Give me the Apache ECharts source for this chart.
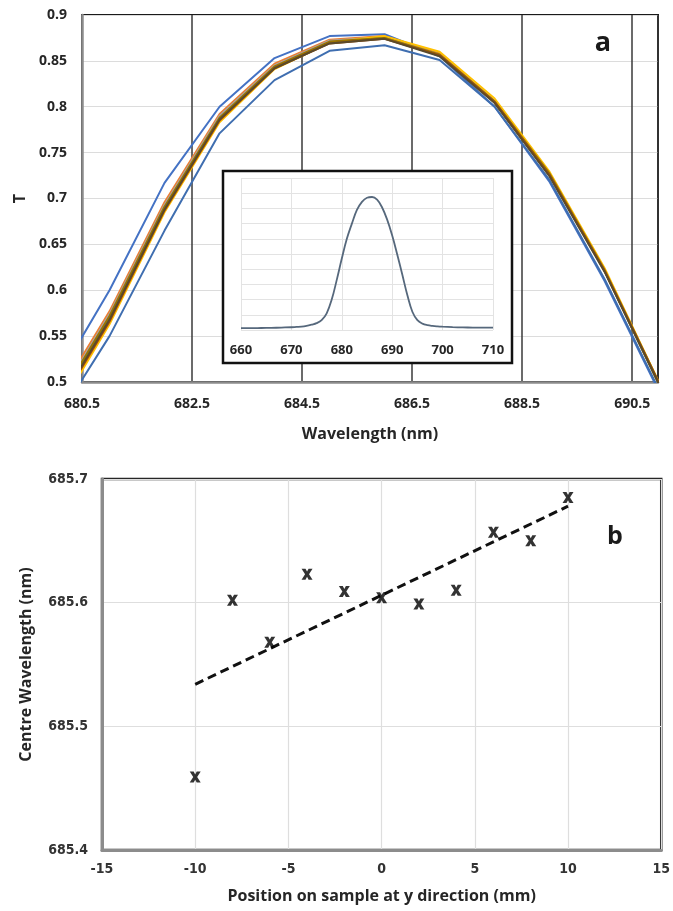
<!DOCTYPE html>
<html>
<head>
    <meta charset="utf-8"/>
    <title>T spectra and centre wavelength</title>
    <script src="https://cdn.jsdelivr.net/npm/echarts@6/dist/echarts.min.js"></script>
    <style>
        html, body { margin: 0; padding: 0; background: #fff; }
        #chart { width: 673px; height: 911px; }
    </style>
</head>
<body>
<div id="chart"></div>
<script type="text/javascript">
// (a) transmission around the peak, nm
var wl = [680, 681, 682, 683, 684, 685, 686, 687, 688, 689, 690, 691];
var tBlueHigh = [0.498, 0.600, 0.717, 0.800, 0.853, 0.877, 0.879, 0.855, 0.800, 0.718, 0.610, 0.488];
var tBlueLow  = [0.455, 0.550, 0.665, 0.771, 0.829, 0.861, 0.867, 0.851, 0.800, 0.720, 0.612, 0.490];
var tOrange   = [0.478, 0.577, 0.696, 0.792, 0.847, 0.873, 0.877, 0.858, 0.806, 0.726, 0.621, 0.496];
var tGray     = [0.474, 0.574, 0.693, 0.790, 0.845, 0.872, 0.876, 0.857, 0.806, 0.726, 0.622, 0.497];
var tYellow   = [0.462, 0.563, 0.685, 0.783, 0.841, 0.870, 0.877, 0.860, 0.809, 0.729, 0.624, 0.498];
var tGreen    = [0.470, 0.570, 0.690, 0.787, 0.843, 0.870, 0.875, 0.856, 0.805, 0.725, 0.621, 0.496];
var tOlive    = [0.472, 0.572, 0.691, 0.788, 0.844, 0.871, 0.875, 0.857, 0.806, 0.727, 0.622, 0.498];
var tBrown    = [0.466, 0.566, 0.687, 0.785, 0.842, 0.869, 0.874, 0.856, 0.805, 0.725, 0.621, 0.497];
var tDark     = [0.468, 0.568, 0.688, 0.786, 0.842, 0.869, 0.874, 0.855, 0.804, 0.724, 0.620, 0.496];
var wlTicks = [680.5, 682.5, 684.5, 686.5, 688.5, 690.5];

// inset: full peak
var wlInset = [660, 662, 664, 666, 668, 670, 671, 672, 673, 674, 675, 676, 677, 678, 679, 680, 681, 682, 683, 684, 685,
    686, 687, 688, 689, 690, 691, 692, 693, 694, 695, 696, 697, 698, 699, 700, 702, 704, 706, 708, 710];
var tInset = [0.012, 0.012, 0.013, 0.014, 0.016, 0.018, 0.020, 0.022, 0.027, 0.035, 0.045, 0.065, 0.110, 0.200, 0.330, 0.470, 0.600, 0.700, 0.790, 0.843, 0.870,
    0.875, 0.857, 0.806, 0.726, 0.622, 0.497, 0.365, 0.230, 0.120, 0.065, 0.042, 0.032, 0.027, 0.024, 0.022, 0.019, 0.017, 0.016, 0.015, 0.015];

// (b) centre wavelength vs position
var posY = [-10, -8, -6, -4, -2, 0, 2, 4, 6, 8, 10];
var centreWl = [685.459, 685.602, 685.568, 685.623, 685.609, 685.604, 685.599, 685.610, 685.657, 685.650, 685.685];
var trendX = [-10, 10];
var trendY = [685.534, 685.678];

var X0 = wlTicks[0]; // top axis is drawn from 680.5
function zip(xs, ys, off) {
    return xs.map(function (x, i) { return [x - (off || 0), ys[i]]; });
}

var myChart = echarts.init(document.getElementById('chart'), null, {renderer: 'canvas'});

var boldFont = {fontFamily: 'Open Sans', fontWeight: 'bold', color: '#262626'};
var narrowFont = {fontFamily: '"DejaVu Sans Condensed", "Liberation Sans Narrow", "Noto Sans", sans-serif', fontWeight: 'bold', color: '#333'};

function topLine(name, data, color, width) {
    return {
        name: name, type: 'line', xAxisIndex: 0, yAxisIndex: 0,
        data: zip(wl, data, X0), symbol: 'none', smooth: false,
        lineStyle: {color: color, width: width || 2}, clip: true
    };
}

var xMark = 'path://M0,0 L3.6,0 L5,2.6 L6.4,0 L10,0 L6.8,5 L10,10 L6.4,10 L5,7.4 L3.6,10 L0,10 L3.2,5 Z';

var option = {
    animation: false,
    backgroundColor: '#fff',
    grid: [
        {left: 82, top: 15, width: 576, height: 367, show: true, borderColor: '#1a1a1a', borderWidth: 2, backgroundColor: 'transparent'},
        {left: 241, top: 178, width: 252, height: 152, show: false},
        {left: 102, top: 479, width: 562, height: 371, show: true, borderColor: '#262626', borderWidth: 2.5, backgroundColor: 'transparent'}
    ],
    xAxis: [
        {
            gridIndex: 0, type: 'value', min: 0, max: 10.47, interval: 2,
            name: 'Wavelength (nm)', nameLocation: 'middle', nameGap: 44,
            nameTextStyle: Object.assign({fontSize: 16}, boldFont),
            axisLine: {show: true, lineStyle: {color: '#8c8c8c', width: 2.5}},
            axisTick: {show: false},
            axisLabel: Object.assign({fontSize: 14, margin: 15, showMaxLabel: false,
                formatter: function (v) { return (v + X0).toFixed(1); }}, boldFont),
            splitLine: {show: true, lineStyle: {color: '#3a3a3a', width: 1.5}}
        },
        {
            gridIndex: 1, type: 'value', min: 660, max: 710, interval: 10, z: 60,
            axisLine: {show: false}, axisTick: {show: false},
            axisLabel: Object.assign({fontSize: 13, margin: 14}, boldFont),
            splitLine: {show: true, lineStyle: {color: '#e3e3e3', width: 1}}
        },
        {
            gridIndex: 2, type: 'value', min: -15, max: 15, interval: 5,
            name: 'Position on sample at y direction (mm)', nameLocation: 'middle', nameGap: 38,
            nameTextStyle: Object.assign({fontSize: 16}, boldFont),
            axisLine: {show: true, onZero: false, lineStyle: {color: '#8c8c8c', width: 3}},
            axisTick: {show: false},
            axisLabel: Object.assign({fontSize: 14, margin: 12}, narrowFont),
            splitLine: {show: true, lineStyle: {color: '#dedede', width: 1.2}}
        }
    ],
    yAxis: [
        {
            gridIndex: 0, type: 'value', min: 0.5, max: 0.9, interval: 0.05,
            name: 'T', nameLocation: 'middle', nameGap: 54,
            nameTextStyle: Object.assign({fontSize: 16}, boldFont),
            axisLine: {show: true, onZero: false, lineStyle: {color: '#8c8c8c', width: 2.5}},
            axisTick: {show: false},
            axisLabel: Object.assign({fontSize: 14, margin: 15,
                formatter: function (v) { return String(+v.toFixed(2)); }}, boldFont),
            splitLine: {show: true, lineStyle: {color: '#dcdcdc', width: 1.2}}
        },
        {
            gridIndex: 1, type: 'value', min: 0, max: 1, interval: 0.1, z: 60,
            axisLine: {show: false}, axisTick: {show: false}, axisLabel: {show: false},
            splitLine: {show: true, lineStyle: {color: '#e3e3e3', width: 1}}
        },
        {
            gridIndex: 2, type: 'value', min: 685.4, max: 685.7, interval: 0.1,
            name: 'Centre Wavelength (nm)', nameLocation: 'middle', nameGap: 68,
            nameTextStyle: Object.assign({fontSize: 16}, boldFont),
            axisLine: {show: true, onZero: false, lineStyle: {color: '#8c8c8c', width: 3}},
            axisTick: {show: false},
            axisLabel: Object.assign({fontSize: 14, margin: 14,
                formatter: function (v) { return v.toFixed(1); }}, narrowFont),
            splitLine: {show: true, lineStyle: {color: '#dedede', width: 1.2}}
        }
    ],
    graphic: [
        {type: 'rect', z: 50, shape: {x: 223, y: 171, width: 289, height: 192},
            style: {fill: '#fff', stroke: '#111', lineWidth: 2.5}},
        {type: 'text', z: 70, x: 603, y: 43, style: {text: 'a', font: 'bold 27px "Open Sans"', fill: '#1a1a1a', textAlign: 'center', textVerticalAlign: 'middle'}},
        {type: 'text', z: 70, x: 615, y: 537, style: {text: 'b', font: 'bold 25px "Open Sans"', fill: '#1a1a1a', textAlign: 'center', textVerticalAlign: 'middle'}}
    ],
    series: [
        topLine('s1', tBlueHigh, '#4472c4'),
        topLine('s2', tBlueLow, '#3f6eb0'),
        topLine('s3', tOrange, '#ed7d31'),
        topLine('s4', tGray, '#a5a5a5'),
        topLine('s5', tYellow, '#ffc000'),
        topLine('s6', tGreen, '#70ad47'),
        topLine('s7', tOlive, '#997300'),
        topLine('s8', tBrown, '#9e480e'),
        topLine('s9', tDark, '#5a4a2a'),
        {
            type: 'line', xAxisIndex: 1, yAxisIndex: 1, z: 60, smooth: 0.4, symbol: 'none',
            data: zip(wlInset, tInset), lineStyle: {color: '#56687c', width: 1.8}
        },
        {
            type: 'line', xAxisIndex: 2, yAxisIndex: 2, symbol: 'none',
            data: zip(trendX, trendY), lineStyle: {color: '#111', width: 3, type: [9, 5]}
        },
        {
            type: 'scatter', xAxisIndex: 2, yAxisIndex: 2, symbol: xMark, symbolSize: [11, 11],
            data: zip(posY, centreWl), itemStyle: {color: '#000'}, z: 5
        }
    ]
};

myChart.setOption(option);
</script>
</body>
</html>
